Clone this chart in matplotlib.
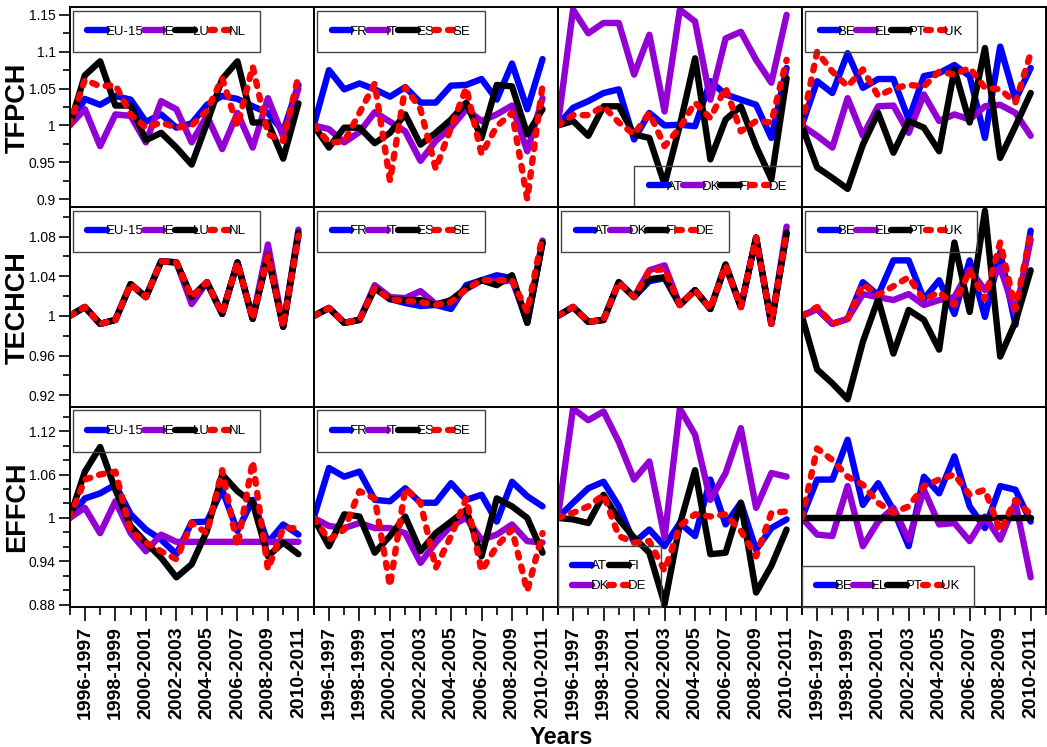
import matplotlib
matplotlib.use("Agg")
import matplotlib.pyplot as plt
from matplotlib import font_manager
from matplotlib.ticker import FixedLocator, MultipleLocator, FuncFormatter

# Periodes (index 0 = annee de base, sans etiquette)
periods = ["", "1996-1997", "1997-1998", "1998-1999", "1999-2000", "2000-2001",
           "2001-2002", "2002-2003", "2003-2004", "2004-2005", "2005-2006",
           "2006-2007", "2007-2008", "2008-2009", "2009-2010", "2010-2011"]

# TFPCH
EU15_tfp = [1.0, 1.036, 1.028, 1.04, 1.035, 1.005, 1.015, 0.997, 1.003, 1.028, 1.04, 1.036, 1.026, 1.017, 0.992, 1.055]
IE_tfp = [1.0, 1.022, 0.972, 1.015, 1.013, 0.977, 1.033, 1.022, 0.977, 1.013, 0.968, 1.017, 0.97, 1.037, 0.985, 1.05]
LU_tfp = [1.0, 1.068, 1.087, 1.027, 1.027, 0.98, 0.99, 0.97, 0.947, 1.003, 1.063, 1.087, 1.004, 1.004, 0.955, 1.03]
NL_tfp = [1.0, 1.062, 1.053, 1.055, 1.015, 0.997, 1.004, 0.997, 1.0, 1.02, 1.064, 0.999, 1.08, 0.988, 0.979, 1.067]
FR_tfp = [1.0, 1.075, 1.049, 1.057, 1.049, 1.039, 1.052, 1.031, 1.031, 1.054, 1.055, 1.063, 1.035, 1.084, 1.022, 1.09]
IT_tfp = [1.0, 0.995, 0.977, 0.991, 1.018, 1.005, 0.992, 0.952, 0.979, 0.997, 1.022, 1.006, 1.015, 1.027, 0.965, 1.037]
ES_tfp = [1.0, 0.97, 0.997, 0.997, 0.976, 0.99, 1.015, 0.974, 0.99, 1.008, 1.031, 0.983, 1.055, 1.053, 0.988, 1.022]
SE_tfp = [1.0, 0.977, 0.978, 1.017, 1.057, 0.925, 1.052, 1.022, 0.941, 0.997, 1.051, 0.961, 0.999, 1.017, 0.9, 1.055]
AT_tfp = [1.0, 1.024, 1.033, 1.044, 1.049, 0.981, 1.017, 1.0, 1.001, 0.999, 1.06, 1.042, 1.035, 1.028, 0.983, 1.078]
DK_tfp = [1.0, 1.157, 1.125, 1.139, 1.139, 1.069, 1.123, 1.019, 1.157, 1.141, 1.035, 1.118, 1.127, 1.089, 1.058, 1.15]
FI_tfp = [1.0, 1.006, 0.986, 1.026, 1.026, 0.988, 0.983, 0.92, 1.0, 1.091, 0.954, 1.008, 1.026, 0.972, 0.927, 1.064]
DE_tfp = [1.0, 1.014, 1.014, 1.026, 1.004, 0.988, 1.017, 0.972, 0.997, 1.031, 1.01, 1.051, 0.992, 1.006, 1.004, 1.089]
BE_tfp = [1.0, 1.06, 1.044, 1.098, 1.051, 1.063, 1.063, 1.008, 1.067, 1.071, 1.082, 1.067, 0.983, 1.107, 1.035, 1.078]
EL_tfp = [1.0, 0.986, 0.97, 1.037, 0.986, 1.026, 1.027, 0.99, 1.042, 1.006, 1.015, 1.008, 1.026, 1.028, 1.017, 0.986]
PT_tfp = [1.0, 0.943, 0.929, 0.914, 0.974, 1.017, 0.963, 1.006, 0.997, 0.965, 1.076, 1.004, 1.105, 0.956, 0.999, 1.044]
UK_tfp = [1.0, 1.1, 1.073, 1.053, 1.076, 1.04, 1.05, 1.055, 1.053, 1.073, 1.069, 1.078, 1.051, 1.049, 1.031, 1.098]

# TECHCH
EU15_tech = [1.0, 1.009, 0.992, 0.996, 1.032, 1.019, 1.055, 1.054, 1.019, 1.034, 1.002, 1.054, 0.997, 1.061, 0.989, 1.081]
IE_tech = [1.0, 1.009, 0.992, 0.996, 1.032, 1.019, 1.055, 1.054, 1.012, 1.034, 1.002, 1.054, 0.997, 1.072, 0.989, 1.087]
LU_tech = [1.0, 1.009, 0.992, 0.996, 1.032, 1.019, 1.055, 1.054, 1.019, 1.034, 1.002, 1.054, 0.997, 1.061, 0.989, 1.084]
NL_tech = [1.0, 1.009, 0.992, 0.996, 1.032, 1.019, 1.055, 1.054, 1.019, 1.034, 1.002, 1.054, 0.997, 1.061, 0.989, 1.081]
FR_tech = [1.0, 1.008, 0.993, 0.996, 1.028, 1.017, 1.013, 1.01, 1.011, 1.007, 1.031, 1.036, 1.041, 1.038, 0.993, 1.074]
IT_tech = [1.0, 1.008, 0.993, 0.996, 1.031, 1.019, 1.018, 1.025, 1.012, 1.015, 1.027, 1.036, 1.034, 1.036, 0.996, 1.076]
ES_tech = [1.0, 1.008, 0.993, 0.996, 1.028, 1.017, 1.016, 1.016, 1.011, 1.016, 1.028, 1.036, 1.031, 1.041, 0.993, 1.074]
SE_tech = [1.0, 1.008, 0.993, 0.996, 1.028, 1.017, 1.015, 1.014, 1.011, 1.014, 1.027, 1.036, 1.036, 1.036, 1.004, 1.081]
AT_tech = [1.0, 1.009, 0.994, 0.996, 1.034, 1.019, 1.035, 1.038, 1.011, 1.026, 1.007, 1.051, 1.009, 1.079, 0.992, 1.083]
DK_tech = [1.0, 1.009, 0.994, 0.996, 1.034, 1.019, 1.046, 1.051, 1.011, 1.026, 1.007, 1.051, 1.009, 1.079, 0.992, 1.09]
FI_tech = [1.0, 1.009, 0.994, 0.996, 1.034, 1.019, 1.037, 1.039, 1.011, 1.026, 1.007, 1.052, 1.009, 1.079, 0.992, 1.084]
DE_tech = [1.0, 1.009, 0.994, 0.996, 1.034, 1.019, 1.046, 1.047, 1.011, 1.026, 1.007, 1.051, 1.009, 1.079, 0.992, 1.084]
BE_tech = [1.0, 1.007, 0.992, 0.997, 1.034, 1.021, 1.056, 1.056, 1.017, 1.036, 1.002, 1.056, 0.999, 1.064, 0.991, 1.086]
EL_tech = [1.0, 1.007, 0.992, 0.997, 1.022, 1.019, 1.016, 1.022, 1.011, 1.016, 1.019, 1.047, 1.026, 1.049, 1.002, 1.077]
PT_tech = [1.0, 0.946, 0.932, 0.916, 0.974, 1.017, 0.962, 1.006, 0.996, 0.966, 1.074, 1.004, 1.106, 0.959, 0.994, 1.046]
UK_tech = [1.0, 1.009, 0.992, 0.997, 1.032, 1.021, 1.03, 1.039, 1.016, 1.024, 1.011, 1.046, 1.017, 1.074, 1.007, 1.084]

# EFFCH
EU15_eff = [1.0, 1.027, 1.034, 1.046, 1.005, 0.984, 0.97, 0.95, 0.994, 0.995, 1.039, 0.982, 1.025, 0.966, 0.991, 0.977]
IE_eff = [1.0, 1.014, 0.979, 1.023, 0.979, 0.954, 0.977, 0.967, 0.967, 0.967, 0.967, 0.967, 0.967, 0.967, 0.967, 0.967]
LU_eff = [1.0, 1.064, 1.098, 1.039, 0.989, 0.966, 0.945, 0.918, 0.936, 0.982, 1.06, 1.037, 1.021, 0.947, 0.966, 0.95]
NL_eff = [1.0, 1.053, 1.06, 1.064, 0.982, 0.966, 0.954, 0.943, 0.993, 0.979, 1.066, 0.961, 1.078, 0.929, 0.986, 0.986]
FR_eff = [1.0, 1.069, 1.057, 1.064, 1.025, 1.023, 1.041, 1.021, 1.021, 1.048, 1.025, 1.032, 0.995, 1.05, 1.03, 1.016]
IT_eff = [1.0, 0.989, 0.986, 0.993, 0.986, 0.986, 0.979, 0.938, 0.966, 0.989, 1.0, 0.97, 0.977, 0.991, 0.968, 0.966]
ES_eff = [1.0, 0.961, 1.005, 1.002, 0.952, 0.975, 1.002, 0.954, 0.979, 0.995, 1.011, 0.947, 1.027, 1.016, 1.0, 0.952]
SE_eff = [1.0, 0.97, 0.984, 1.037, 1.027, 0.906, 1.041, 1.021, 0.931, 0.975, 1.027, 0.927, 0.961, 0.984, 0.899, 0.979]
AT_eff = [1.0, 1.021, 1.041, 1.05, 1.016, 0.966, 0.984, 0.961, 0.993, 0.975, 1.053, 0.991, 1.021, 0.956, 0.986, 0.998]
DK_eff = [1.0, 1.151, 1.135, 1.147, 1.105, 1.053, 1.078, 0.973, 1.151, 1.115, 1.025, 1.062, 1.124, 1.014, 1.062, 1.057]
FI_eff = [1.0, 0.998, 0.993, 1.032, 0.998, 0.973, 0.952, 0.881, 0.991, 1.066, 0.95, 0.952, 1.021, 0.897, 0.934, 0.984]
DE_eff = [1.0, 1.007, 1.016, 1.032, 0.975, 0.966, 0.968, 0.927, 0.989, 1.005, 1.002, 1.005, 0.982, 0.947, 1.007, 1.009]
BE_eff = [1.0, 1.053, 1.053, 1.108, 1.018, 1.048, 1.011, 0.961, 1.057, 1.034, 1.085, 1.016, 0.986, 1.044, 1.039, 0.995]
EL_eff = [1.0, 0.977, 0.975, 1.044, 0.961, 0.995, 1.014, 0.97, 1.039, 0.991, 0.993, 0.968, 1.002, 0.97, 1.021, 0.918]
PT_eff = [1.0, 1.0, 1.0, 1.0, 1.0, 1.0, 1.0, 1.0, 1.0, 1.0, 1.0, 1.0, 1.0, 1.0, 1.0, 1.0]
UK_eff = [1.0, 1.096, 1.08, 1.057, 1.046, 1.021, 1.007, 1.016, 1.044, 1.053, 1.06, 1.032, 1.039, 0.982, 1.025, 1.005]

rowNames = ["TFPCH", "TECHCH", "EFFCH"]
groups = [["EU-15", "IE", "LU", "NL"], ["FR", "IT", "ES", "SE"],
          ["AT", "DK", "FI", "DE"], ["BE", "EL", "PT", "UK"]]

data = {
    "TFPCH": {"EU-15": EU15_tfp, "IE": IE_tfp, "LU": LU_tfp, "NL": NL_tfp,
              "FR": FR_tfp, "IT": IT_tfp, "ES": ES_tfp, "SE": SE_tfp,
              "AT": AT_tfp, "DK": DK_tfp, "FI": FI_tfp, "DE": DE_tfp,
              "BE": BE_tfp, "EL": EL_tfp, "PT": PT_tfp, "UK": UK_tfp},
    "TECHCH": {"EU-15": EU15_tech, "IE": IE_tech, "LU": LU_tech, "NL": NL_tech,
               "FR": FR_tech, "IT": IT_tech, "ES": ES_tech, "SE": SE_tech,
               "AT": AT_tech, "DK": DK_tech, "FI": FI_tech, "DE": DE_tech,
               "BE": BE_tech, "EL": EL_tech, "PT": PT_tech, "UK": UK_tech},
    "EFFCH": {"EU-15": EU15_eff, "IE": IE_eff, "LU": LU_eff, "NL": NL_eff,
              "FR": FR_eff, "IT": IT_eff, "ES": ES_eff, "SE": SE_eff,
              "AT": AT_eff, "DK": DK_eff, "FI": FI_eff, "DE": DE_eff,
              "BE": BE_eff, "EL": EL_eff, "PT": PT_eff, "UK": UK_eff},
}

# On cherche une police etroite si elle existe
names = {f.name for f in font_manager.fontManager.ttflist}
narrow = "Liberation Sans Narrow" in names
mainFont = "Liberation Sans Narrow" if narrow else "Liberation Sans"
plt.rcParams["font.family"] = mainFont

colors = ["#0000ff", "#9400d3", "#000000", "#ff0000"]
lw = 4.6

rowLims = [(0.889, 1.160), (0.908, 1.1095), (0.877, 1.153)]
rowTicks = [[0.9, 0.95, 1.0, 1.05, 1.1, 1.15],
            [0.92, 0.96, 1.0, 1.04, 1.08],
            [0.88, 0.94, 1.0, 1.06, 1.12]]
rowMinor = [0.025, 0.02, 0.02]

# position des legendes : (loc, ncol)
legendPos = [[("upper left", 4), ("upper left", 4), ("lower right", 4), ("upper left", 4)],
             [("upper left", 4), ("upper left", 4), ("upper left", 4), ("upper left", 4)],
             [("upper left", 4), ("upper left", 4), ("lower left", 2), ("lower left", 4)]]

fig, axes = plt.subplots(3, 4, figsize=(10.47, 7.47), dpi=100, sharex=True,
                         sharey="row", gridspec_kw=dict(hspace=0, wspace=0))
fig.subplots_adjust(left=0.0665, right=0.999, top=0.99, bottom=0.1874)

x = list(range(len(periods)))
legFont = 11 if narrow else 9.5

for r, rowName in enumerate(rowNames):
    for c, grp in enumerate(groups):
        ax = axes[r, c]
        for k, name in enumerate(grp):
            if k == 3:
                ax.plot(x, data[rowName][name], color=colors[k], lw=lw,
                        linestyle=(0, (0.75, 1.45)), dash_capstyle="round",
                        solid_joinstyle="round", label=name)
            else:
                ax.plot(x, data[rowName][name], color=colors[k], lw=lw,
                        solid_capstyle="round", solid_joinstyle="round", label=name)

        loc, ncol = legendPos[r][c]
        pad = 0.0 if loc.startswith("lower") else 0.25
        leg = ax.legend(loc=loc, ncol=ncol, fontsize=legFont, handlelength=1.5,
                        handletextpad=-0.1, columnspacing=0.0, borderpad=1.1,
                        labelspacing=0.6, borderaxespad=pad, fancybox=False,
                        facecolor="none", edgecolor="#444444", framealpha=1)
        leg.get_frame().set_linewidth(1.0)

        ax.set_xlim(0, 16)
        ax.set_ylim(*rowLims[r])
        for sp in ax.spines.values():
            sp.set_linewidth(1.4)
            sp.set_color("black")

        if c == 0:
            ax.yaxis.set_major_locator(FixedLocator(rowTicks[r]))
            ax.yaxis.set_minor_locator(MultipleLocator(rowMinor[r]))
            ax.yaxis.set_major_formatter(FuncFormatter(lambda v, p: f"{v:g}"))
            ax.tick_params(axis="y", which="major", direction="out", length=8,
                           width=1.2, labelsize=12 if narrow else 10, pad=2)
            ax.tick_params(axis="y", which="minor", direction="out", length=5, width=1.2)
            ax.set_ylabel(rowName, fontsize=22 if narrow else 19.5, fontweight="bold")
            ax.yaxis.set_label_coords(-0.16, 0.5)
        else:
            ax.tick_params(axis="y", which="both", left=False)

        if r == 2:
            ax.xaxis.set_major_locator(FixedLocator([1, 3, 5, 7, 9, 11, 13, 15]))
            ax.xaxis.set_minor_locator(MultipleLocator(1))
            ax.set_xticklabels([periods[i] for i in [1, 3, 5, 7, 9, 11, 13, 15]],
                               rotation=90, fontsize=14, fontweight="bold",
                               family="Liberation Sans")
            ax.tick_params(axis="x", which="major", direction="out", length=10,
                           width=1.2, pad=4)
            ax.tick_params(axis="x", which="minor", direction="out", length=6, width=1.2)
        else:
            ax.tick_params(axis="x", which="both", bottom=False)

fig.text(0.536, 0.013, "Years", ha="center", va="center",
         fontsize=20 if narrow else 17, fontweight="bold")

fig.savefig("out.png", dpi=100)
